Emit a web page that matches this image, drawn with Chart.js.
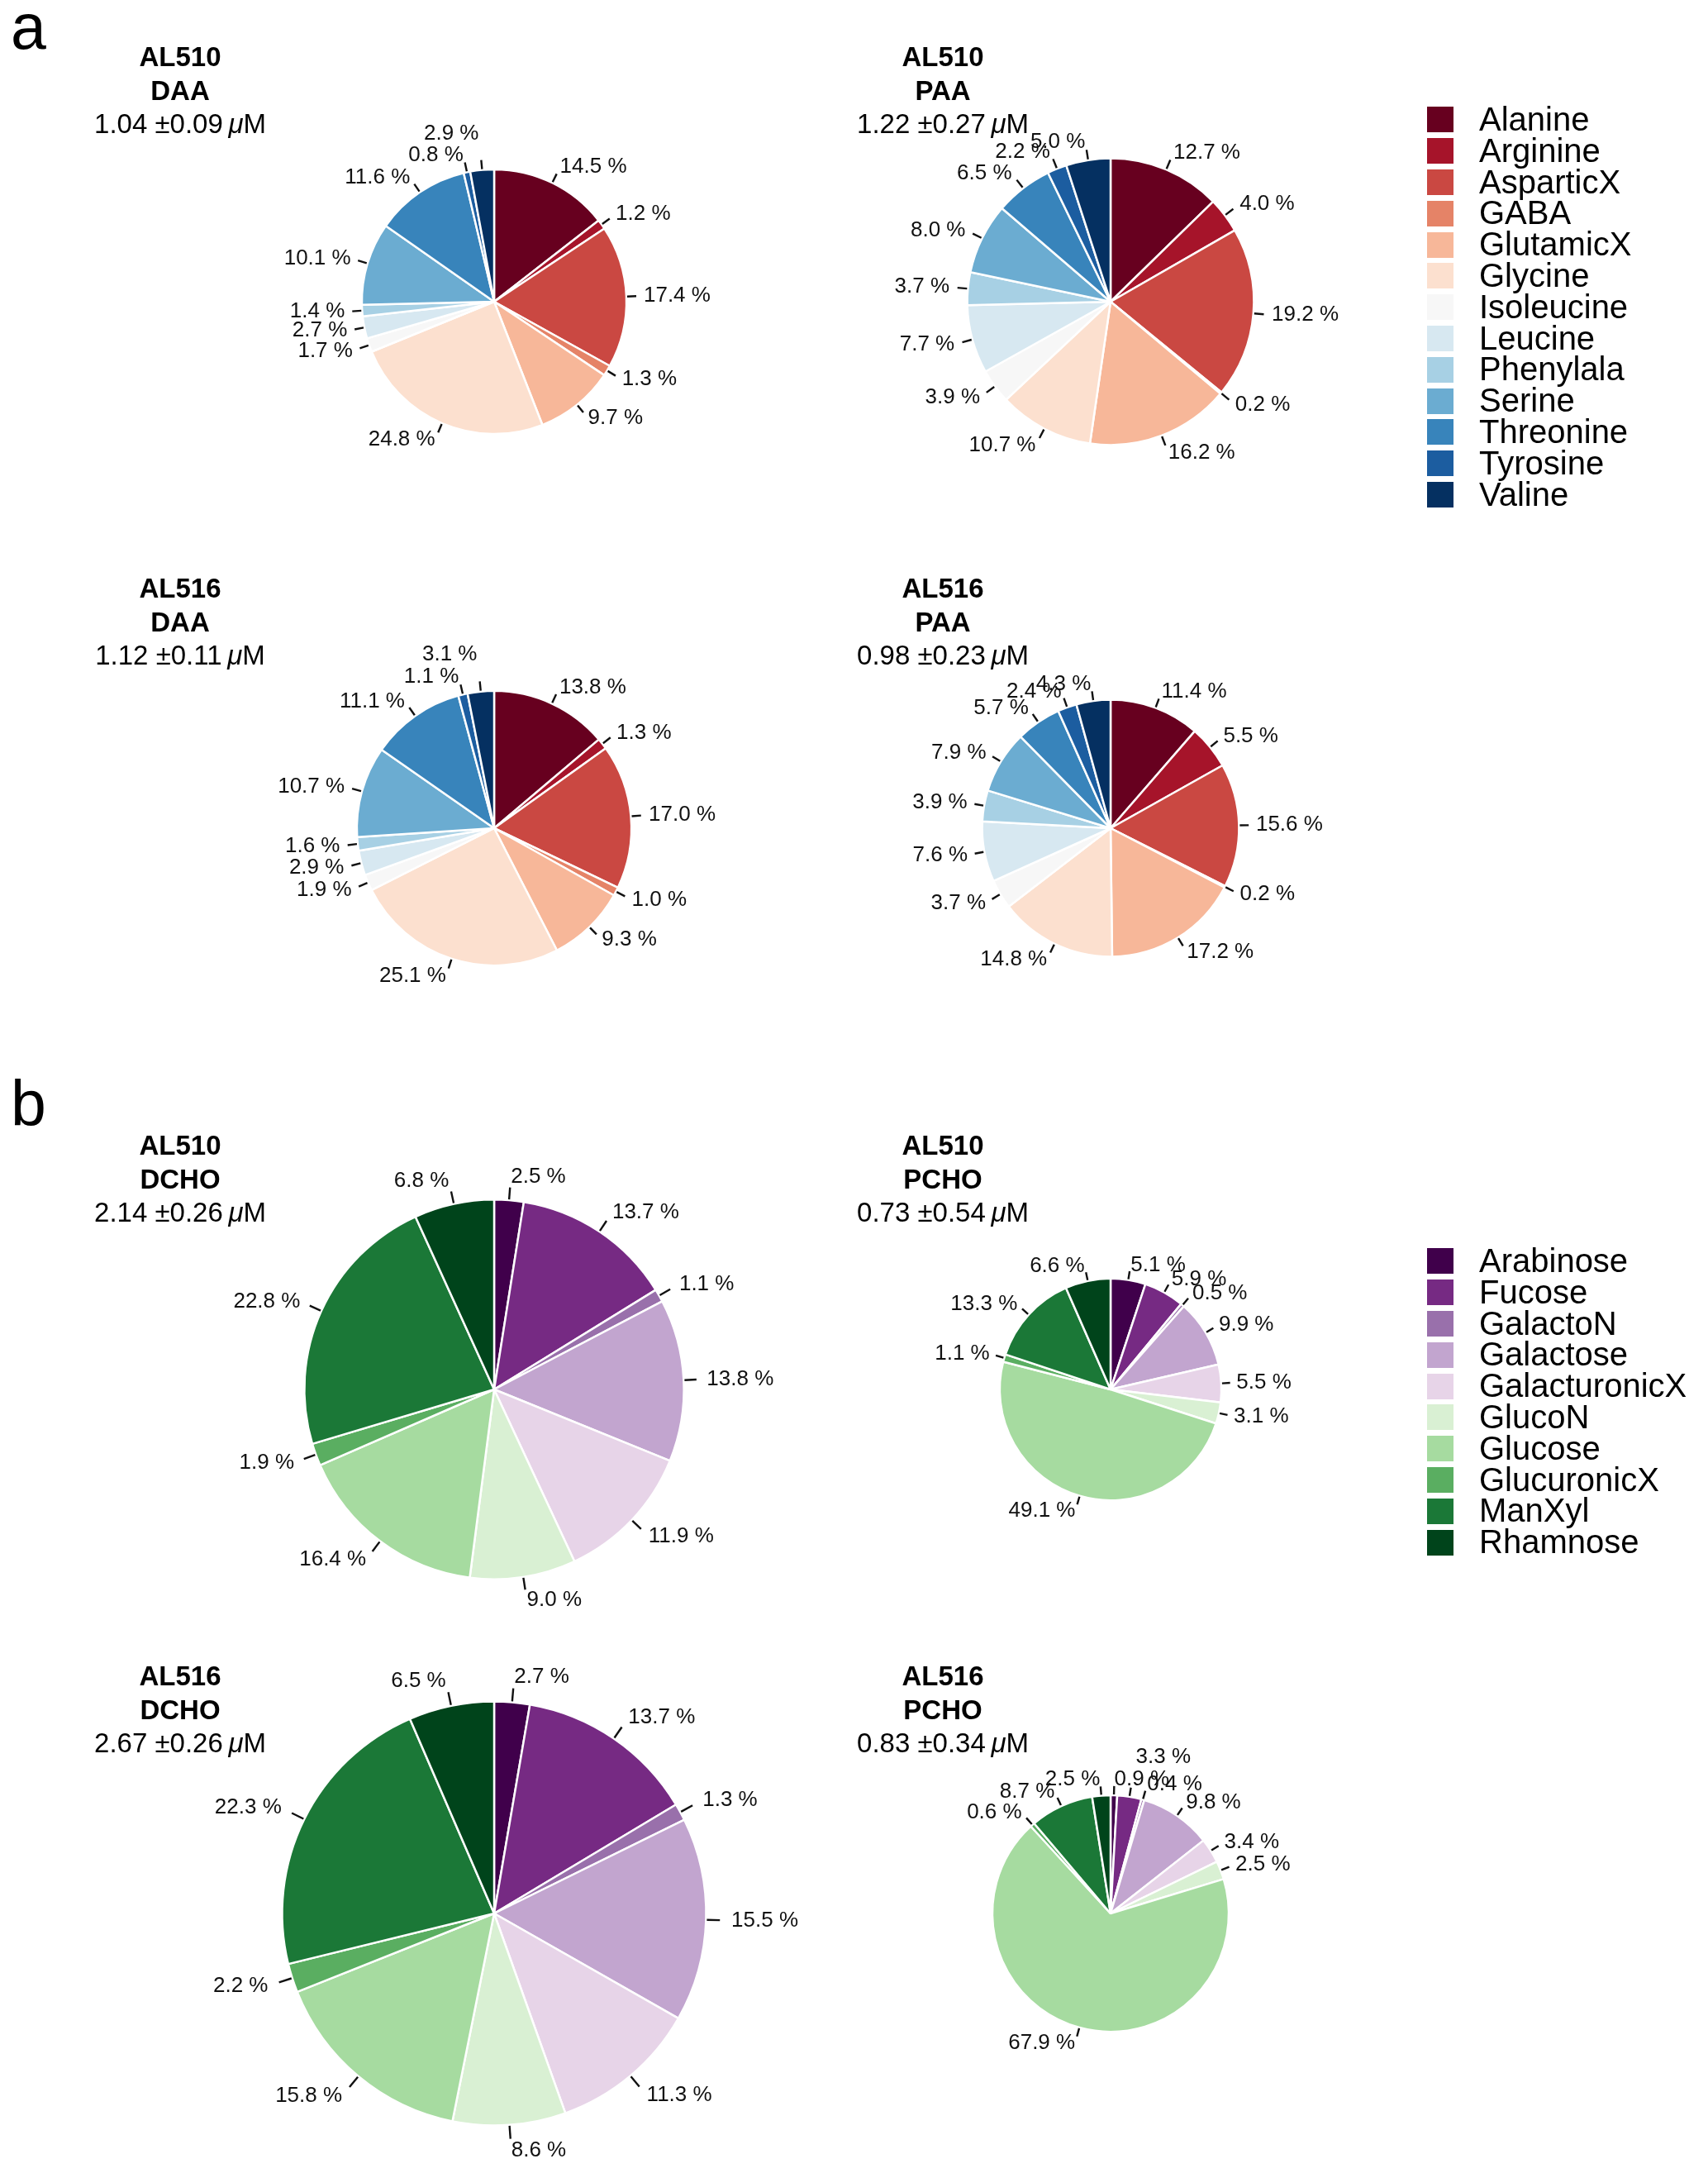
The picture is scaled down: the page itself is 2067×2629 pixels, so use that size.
<!DOCTYPE html>
<html>
<head>
    <meta charset="UTF-8">
    <title>Amino acid and carbohydrate composition</title>
    <script src="https://cdn.jsdelivr.net/npm/chart.js"></script>
    <style>
        body {
            margin: 0;
            background-color: #fff;
            font-family: "Liberation Sans", Arial, Helvetica, sans-serif;
            color: #000;
        }

        #page {
            position: relative;
            width: 2067px;
            height: 2629px;
            overflow: hidden;
        }

        canvas.pie {
            position: absolute;
        }

        .panel-letter {
            position: absolute;
            left: 13px;
            font-size: 77px;
            line-height: 77px;
        }

        .title {
            position: absolute;
            width: 420px;
            text-align: center;
            font-size: 33px;
            line-height: 40.5px;
            z-index: 2;
        }

        .legend {
            position: absolute;
            left: 1727px;
            z-index: 2;
        }

        .legend .row {
            display: flex;
            align-items: center;
            height: 37.8px;
        }

        .legend .sw {
            width: 32px;
            height: 31px;
        }

        .legend .txt {
            margin-left: 31px;
            font-size: 40px;
            line-height: 37.8px;
            white-space: nowrap;
        }
    </style>
</head>
<body>
<div id="page">
    <div class="panel-letter" style="top:-6px">a</div>
    <div class="panel-letter" style="top:1297px">b</div>
</div>

<script>
    // categories
    const aminoAcids = ['Alanine', 'Arginine', 'AsparticX', 'GABA', 'GlutamicX', 'Glycine', 'Isoleucine',
        'Leucine', 'Phenylala', 'Serine', 'Threonine', 'Tyrosine', 'Valine'];
    const sugars = ['Arabinose', 'Fucose', 'GalactoN', 'Galactose', 'GalacturonicX', 'GlucoN', 'Glucose',
        'GlucuronicX', 'ManXyl', 'Rhamnose'];

    // percentages (same order as categories)
    const al510DAA = [14.5, 1.2, 17.4, 1.3, 9.7, 24.8, 1.7, 2.7, 1.4, 10.1, 11.6, 0.8, 2.9];
    const al510PAA = [12.7, 4.0, 19.2, 0.2, 16.2, 10.7, 3.9, 7.7, 3.7, 8.0, 6.5, 2.2, 5.0];
    const al516DAA = [13.8, 1.3, 17.0, 1.0, 9.3, 25.1, 1.9, 2.9, 1.6, 10.7, 11.1, 1.1, 3.1];
    const al516PAA = [11.4, 5.5, 15.6, 0.2, 17.2, 14.8, 3.7, 7.6, 3.9, 7.9, 5.7, 2.4, 4.3];

    const al510DCHO = [2.5, 13.7, 1.1, 13.8, 11.9, 9.0, 16.4, 1.9, 22.8, 6.8];
    const al510PCHO = [5.1, 5.9, 0.5, 9.9, 5.5, 3.1, 49.1, 1.1, 13.3, 6.6];
    const al516DCHO = [2.7, 13.7, 1.3, 15.5, 11.3, 8.6, 15.8, 2.2, 22.3, 6.5];
    const al516PCHO = [0.9, 3.3, 0.4, 9.8, 3.4, 2.5, 67.9, 0.6, 8.7, 2.5];

    // total concentrations (µM), panel order: AL510 D, AL510 P, AL516 D, AL516 P
    const stations = ['AL510', 'AL510', 'AL516', 'AL516'];
    const aaTypes = ['DAA', 'PAA', 'DAA', 'PAA'];
    const aaMeans = [1.04, 1.22, 1.12, 0.98];
    const aaSds = [0.09, 0.27, 0.11, 0.23];
    const choTypes = ['DCHO', 'PCHO', 'DCHO', 'PCHO'];
    const choMeans = [2.14, 0.73, 2.67, 0.83];
    const choSds = [0.26, 0.54, 0.26, 0.34];

    // colours (RdBu ramp, PRGn)
    const aaColors = ['#67001F', '#A6142A', '#CA4842', '#E58367', '#F7B799', '#FCE0CF', '#F7F7F7',
        '#D7E8F1', '#A7D0E4', '#6BACD1', '#3884BB', '#1C5DA0', '#053061'];
    const sugarColors = ['#40004B', '#762A83', '#9970AB', '#C2A5CF', '#E7D4E8', '#D9F0D3', '#A6DBA0',
        '#5AAE61', '#1B7837', '#00441B'];

    // layout
    const colX = [598, 1344];
    const rowY = [365, 1002, 1681, 2315];
    const titleX = [218, 1141];
    const titleY = [69, 712, 1386, 2028];
    const radiusScale = 157;   // px per sqrt(µM)
    const canvasW = 780, canvasH = 720;

    const page = document.getElementById('page');

    // percent labels + ticks around each pie
    const pieLabels = {
        id: 'pieLabels',
        afterDatasetsDraw(chart) {
            const ctx = chart.ctx;
            const meta = chart.getDatasetMeta(0);
            const values = chart.data.datasets[0].data;
            const placed = [];
            const h = 22;
            ctx.save();
            ctx.font = '26px "Liberation Sans", Arial, sans-serif';
            ctx.fillStyle = '#111';
            ctx.strokeStyle = '#111';
            ctx.lineWidth = 2.4;
            ctx.textBaseline = 'middle';
            meta.data.forEach((arc, i) => {
                const p = arc.getProps(['x', 'y', 'startAngle', 'endAngle', 'outerRadius'], true);
                const a = (p.startAngle + p.endAngle) / 2;
                const c = Math.cos(a), s = Math.sin(a);
                const r = p.outerRadius;
                const t0 = r + 1, t1 = r + 4 + 0.05 * r;
                ctx.beginPath();
                ctx.moveTo(p.x + c * t0, p.y + s * t0);
                ctx.lineTo(p.x + c * t1, p.y + s * t1);
                ctx.stroke();

                const text = values[i].toFixed(1) + ' %';
                const w = ctx.measureText(text).width;
                const align = Math.abs(c) < 0.02 ? 'center' : (c > 0 ? 'left' : 'right');
                const box = d => {
                    const ax = p.x + c * d, ay = p.y + s * d;
                    const x0 = align === 'left' ? ax : (align === 'right' ? ax - w : ax - w / 2);
                    return {x0: x0, x1: x0 + w, y0: ay - h / 2, y1: ay + h / 2, ax: ax, ay: ay};
                };
                const overlap = b => placed.reduce((m, q) => {
                    const ox = Math.max(0, Math.min(b.x1, q.x1) - Math.max(b.x0, q.x0));
                    const oy = Math.max(0, Math.min(b.y1, q.y1) - Math.max(b.y0, q.y0));
                    return Math.max(m, ox * oy / (w * h));
                }, 0);
                let d = r + 5 + 0.1 * r;
                let b = box(d);
                // push crowded labels outwards
                if (overlap(b) > 0.45) {
                    while (overlap(b) > 0 && d < r + 200) {
                        d += 2;
                        b = box(d);
                    }
                    d += 3;
                    b = box(d);
                }
                placed.push(b);
                ctx.textAlign = align;
                ctx.fillText(text, b.ax, b.ay);
            });
            ctx.restore();
        }
    };

    function addPie(values, labels, colors, mean, sd, station, type, col, row) {
        const cx = colX[col], cy = rowY[row];
        const canvas = document.createElement('canvas');
        canvas.className = 'pie';
        canvas.width = canvasW;
        canvas.height = canvasH;
        canvas.style.left = (cx - canvasW / 2) + 'px';
        canvas.style.top = (cy - canvasH / 2) + 'px';
        page.appendChild(canvas);

        const title = document.createElement('div');
        title.className = 'title';
        title.style.left = (titleX[col] - 210) + 'px';
        title.style.top = (titleY[row] - 20) + 'px';
        title.innerHTML = '<b>' + station + '</b><br><b>' + type + '</b><br>' +
            mean.toFixed(2) + ' \u00B1' + sd.toFixed(2) + '\u2009<i>\u03BC</i>M';
        page.appendChild(title);

        new Chart(canvas.getContext('2d'), {
            type: 'pie',
            data: {
                labels: labels,
                datasets: [{
                    data: values,
                    backgroundColor: colors,
                    borderColor: '#ffffff',
                    borderWidth: 2.5
                }]
            },
            options: {
                responsive: false,
                animation: false,
                radius: radiusScale * Math.sqrt(mean),
                layout: {padding: 0},
                plugins: {
                    legend: {display: false},
                    tooltip: {enabled: false}
                }
            },
            plugins: [pieLabels]
        });
    }

    function addLegend(labels, colors, top) {
        const box = document.createElement('div');
        box.className = 'legend';
        box.style.top = top + 'px';
        labels.forEach((name, i) => {
            const row = document.createElement('div');
            row.className = 'row';
            row.innerHTML = '<div class="sw" style="background:' + colors[i] + '"></div><div class="txt">' + name + '</div>';
            box.appendChild(row);
        });
        page.appendChild(box);
    }

    const aaData = [al510DAA, al510PAA, al516DAA, al516PAA];
    const choData = [al510DCHO, al510PCHO, al516DCHO, al516PCHO];

    aaData.forEach((vals, k) => {
        addPie(vals, aminoAcids, aaColors, aaMeans[k], aaSds[k], stations[k], aaTypes[k], k % 2, Math.floor(k / 2));
    });
    choData.forEach((vals, k) => {
        addPie(vals, sugars, sugarColors, choMeans[k], choSds[k], stations[k], choTypes[k], k % 2, 2 + Math.floor(k / 2));
    });

    addLegend(aminoAcids, aaColors, 126);
    addLegend(sugars, sugarColors, 1507);
</script>
</body>
</html>
